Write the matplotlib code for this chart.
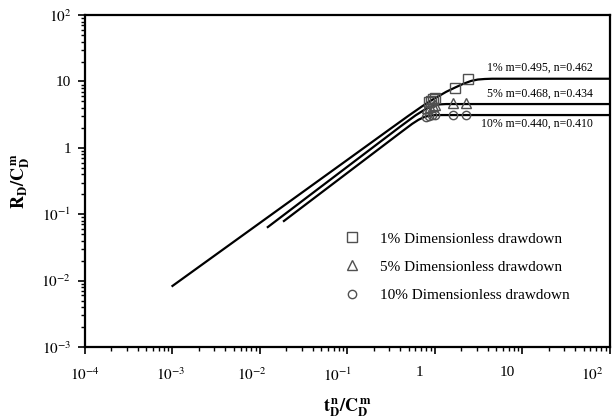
import matplotlib; matplotlib.use('Agg')
import matplotlib.pyplot as plt
from matplotlib.ticker import FixedLocator, LogLocator, NullFormatter
from matplotlib.transforms import ScaledTranslation

plt.rcParams['font.family'] = 'Liberation Serif'
plt.rcParams['mathtext.fontset'] = 'stix'

# curves (x = tD^n/CD^m, y = RD/CD^m)
x1 = [0.001, 0.01, 0.1, 0.3, 0.5, 0.7, 0.9, 1.1, 1.35, 1.7, 2.1, 2.6, 3.1, 3.7, 4.5, 100]
y1 = [0.0083, 0.074, 0.66, 1.88, 3.05, 4.15, 5.15, 6.0, 7.0, 8.1, 9.2, 10.2, 10.7, 10.9, 11.0, 11.0]
x5 = [0.0123, 0.1, 0.4, 0.6, 0.7, 0.8, 0.9, 1.0, 1.15, 1.35, 100]
y5 = [0.064, 0.52, 2.08, 3.08, 3.5, 3.9, 4.2, 4.4, 4.52, 4.57, 4.57]
x10 = [0.0188, 0.1, 0.4, 0.55, 0.65, 0.75, 0.85, 1.0, 1.2, 100]
y10 = [0.079, 0.42, 1.68, 2.3, 2.65, 2.9, 3.04, 3.11, 3.12, 3.12]

# measured points
sq_x = [0.85, 0.9, 0.95, 1.0, 1.7, 2.4]
sq_y = [4.9, 5.15, 5.4, 5.6, 8.0, 10.8]
tr_x = [0.82, 0.88, 0.94, 1.0, 1.62, 2.27]
tr_y = [3.95, 4.15, 4.3, 4.4, 4.75, 4.75]
ci_x = [0.8, 0.86, 0.93, 1.0, 1.62, 2.27]
ci_y = [2.95, 3.04, 3.08, 3.11, 3.12, 3.12]

curve_labels = ['1% m=0.495, n=0.462', '5% m=0.468, n=0.434', '10% m=0.440, n=0.410']
legend_labels = ['1% Dimensionless drawdown', '5% Dimensionless drawdown', '10% Dimensionless drawdown']

xticks = [1e-4, 1e-3, 1e-2, 1e-1, 1, 10, 100]
xticklabels = [r'$10^{-4}$', r'$10^{-3}$', r'$10^{-2}$', r'$10^{-1}$', '1', '10', r'$10^{2}$']
yticks = [1e-3, 1e-2, 1e-1, 1, 10, 100]
yticklabels = [r'$10^{-3}$', r'$10^{-2}$', r'$10^{-1}$', '1', '10', r'$10^{2}$']

fig = plt.figure(figsize=(6.16, 4.2), dpi=100)
ax = fig.add_axes([0.138, 0.174, 0.852, 0.790])
ax.set_xscale('log'); ax.set_yscale('log')

for x, y in [(x1, y1), (x5, y5), (x10, y10)]:
    ax.plot(x, y, color='black', lw=1.6, zorder=2)

mk = dict(ls='none', mfc='none', mec='#505050', mew=1.0, zorder=3)
ax.plot(sq_x, sq_y, marker='s', ms=6.5, label=legend_labels[0], **mk)
ax.plot(tr_x, tr_y, marker='^', ms=6.5, label=legend_labels[1], **mk)
ax.plot(ci_x, ci_y, marker='o', ms=6, label=legend_labels[2], **mk)

ax.text(15.8, 15.9, curve_labels[0], fontsize=8.5, ha='center', va='center')
ax.text(15.8, 6.46, curve_labels[1], fontsize=8.5, ha='center', va='center')
ax.text(14.7, 2.28, curve_labels[2], fontsize=8.5, ha='center', va='center')

ax.set_xlim(1e-4, 100); ax.set_ylim(1e-3, 100)
ax.xaxis.set_major_locator(FixedLocator(xticks))
ax.set_xticklabels(xticklabels)
ax.yaxis.set_major_locator(FixedLocator(yticks))
ax.set_yticklabels(yticklabels)
ax.xaxis.set_minor_locator(LogLocator(base=10, subs=range(2, 10), numticks=20))
ax.yaxis.set_minor_locator(LogLocator(base=10, subs=range(2, 10), numticks=20))
ax.xaxis.set_minor_formatter(NullFormatter()); ax.yaxis.set_minor_formatter(NullFormatter())
ax.tick_params(which='major', direction='out', length=5, width=1.2, labelsize=11)
ax.tick_params(axis='x', which='major', pad=9)
ax.tick_params(axis='y', which='major', pad=5)
ax.tick_params(which='minor', direction='out', length=3, width=1.0)
ax.tick_params(top=False, right=False, which='both')
for s in ax.spines.values():
    s.set_linewidth(1.6)

# x tick labels sit a little left of their ticks in the original
shifts = [0, -2, -8, -10, -15, -15, -18]
for lab, dx in zip(ax.get_xticklabels(), shifts):
    lab.set_transform(lab.get_transform() + ScaledTranslation(dx / 100, 0, fig.dpi_scale_trans))

ax.set_xlabel(r'$\mathbf{t_D^{\,n}/C_D^{\,m}}$', fontsize=13, labelpad=9)
ax.set_ylabel(r'$\mathbf{R_D/C_D^{\,m}}$', fontsize=13, labelpad=7)

ax.legend(loc='upper left', bbox_to_anchor=(0.483, 0.365), frameon=False, fontsize=11,
          handlelength=1.0, handletextpad=1.3, labelspacing=0.95, borderaxespad=0)

fig.savefig('out.png', dpi=100)
